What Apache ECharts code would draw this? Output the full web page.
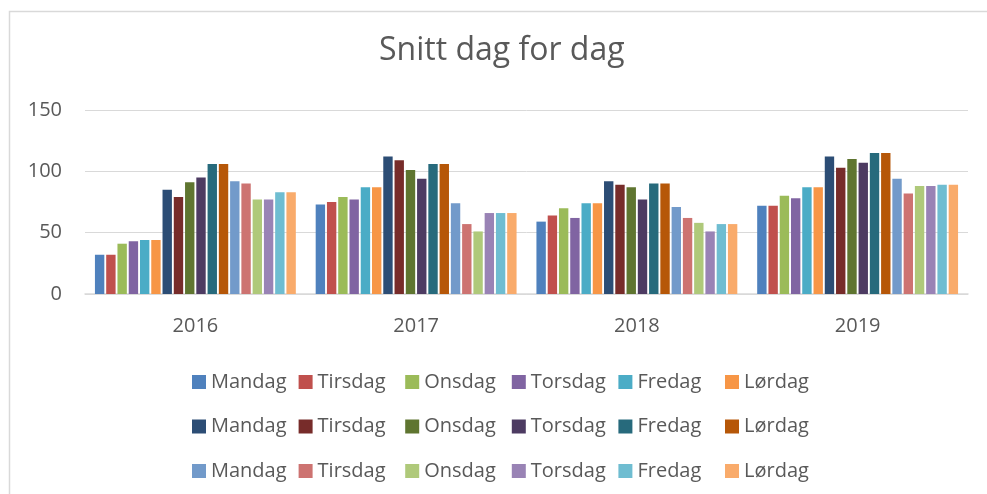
<!DOCTYPE html>
<html>
<head>
<meta charset="utf-8">
<title>Snitt dag for dag</title>
<script src="https://cdn.jsdelivr.net/npm/echarts@6/dist/echarts.min.js"></script>
<style>
  html, body { margin: 0; padding: 0; background: #fff; }
  #chart { width: 987px; height: 494px; }
</style>
</head>
<body>
<div id="chart"></div>
<script>
// kategorier og serier
const years = ['2016', '2017', '2018', '2019'];
const days = ['Mandag', 'Tirsdag', 'Onsdag', 'Torsdag', 'Fredag', 'Lørdag'];
const yTicks = [0, 50, 100, 150];

// gruppe 1 (vanlige farger), en rad per dag, en verdi per år
const group1 = [
  [32, 73, 59, 72],
  [32, 75, 64, 72],
  [41, 79, 70, 80],
  [43, 77, 62, 78],
  [44, 87, 74, 87],
  [44, 87, 74, 87]
];
// gruppe 2 (mørke farger)
const group2 = [
  [85, 112, 92, 112],
  [79, 109, 89, 103],
  [91, 101, 87, 110],
  [95, 94, 77, 107],
  [106, 106, 90, 115],
  [106, 106, 90, 115]
];
// gruppe 3 (lyse farger)
const group3 = [
  [92, 74, 71, 94],
  [90, 57, 62, 82],
  [77, 51, 58, 88],
  [77, 66, 51, 88],
  [83, 66, 57, 89],
  [83, 66, 57, 89]
];

const colors1 = ['#4F81BD', '#C0504D', '#9BBB59', '#8064A2', '#4BACC6', '#F79646'];
const colors2 = ['#2C4D75', '#772C2A', '#5F7530', '#4D3B62', '#276A7C', '#B65708'];
const colors3 = ['#729ACA', '#CD7371', '#AFC97A', '#9983B5', '#6FBDD1', '#F9AB6B'];

const groups = [group1, group2, group3];
const groupColors = [colors1, colors2, colors3];
const font = '"Open Sans", "DejaVu Sans", sans-serif';
const textColor = '#595959';

// serienavn må være unike, teksten i legenden viser bare dagen
// en legend per element, så kolonnene står likt som i Excel
const series = [];
const legends = [];
const legendTops = [372, 416.5, 461];
groups.forEach((g, gi) => {
  g.forEach((vals, di) => {
    const name = days[di] + '#' + (gi + 1);
    series.push({
      name: name,
      type: 'bar',
      data: vals,
      barGap: '20%',
      barCategoryGap: '9%',
      itemStyle: { color: groupColors[gi][di] },
      emphasis: { disabled: true }
    });
    legends.push({
      data: [name],
      left: 192 + di * 106.6,
      top: legendTops[gi],
      padding: 0,
      icon: 'rect',
      itemWidth: 14,
      itemHeight: 14,
      selectedMode: false,
      formatter: (n) => n.split('#')[0],
      textStyle: { fontFamily: font, fontSize: 20, color: textColor }
    });
  });
});

const myChart = echarts.init(document.getElementById('chart'), null, { renderer: 'canvas' });
myChart.setOption({
  backgroundColor: '#fff',
  animation: false,
  title: {
    text: 'Snitt dag for dag',
    left: 379,
    top: 35,
    padding: 0,
    textStyle: { fontFamily: font, fontSize: 32, fontWeight: 'normal', color: textColor }
  },
  graphic: [{
    type: 'rect',
    shape: { x: 9.5, y: 11.5, width: 1000, height: 500 },
    style: { fill: 'none', stroke: '#d9d9d9', lineWidth: 1.5 },
    silent: true
  }],
  legend: legends,
  grid: { left: 85, right: 19, top: 110, bottom: 200 },
  xAxis: {
    type: 'category',
    data: years,
    axisTick: { show: false },
    axisLine: { lineStyle: { color: '#d9d9d9', width: 1.5 } },
    axisLabel: { fontFamily: font, fontSize: 20, color: textColor, margin: 22 }
  },
  yAxis: {
    type: 'value',
    min: yTicks[0],
    max: yTicks[yTicks.length - 1],
    interval: 50,
    axisLine: { show: false },
    axisTick: { show: false },
    splitLine: { lineStyle: { color: '#d9d9d9', width: 1 } },
    axisLabel: { fontFamily: font, fontSize: 20, color: textColor, margin: 23 }
  },
  tooltip: { show: false },
  series: series
});
</script>
</body>
</html>
